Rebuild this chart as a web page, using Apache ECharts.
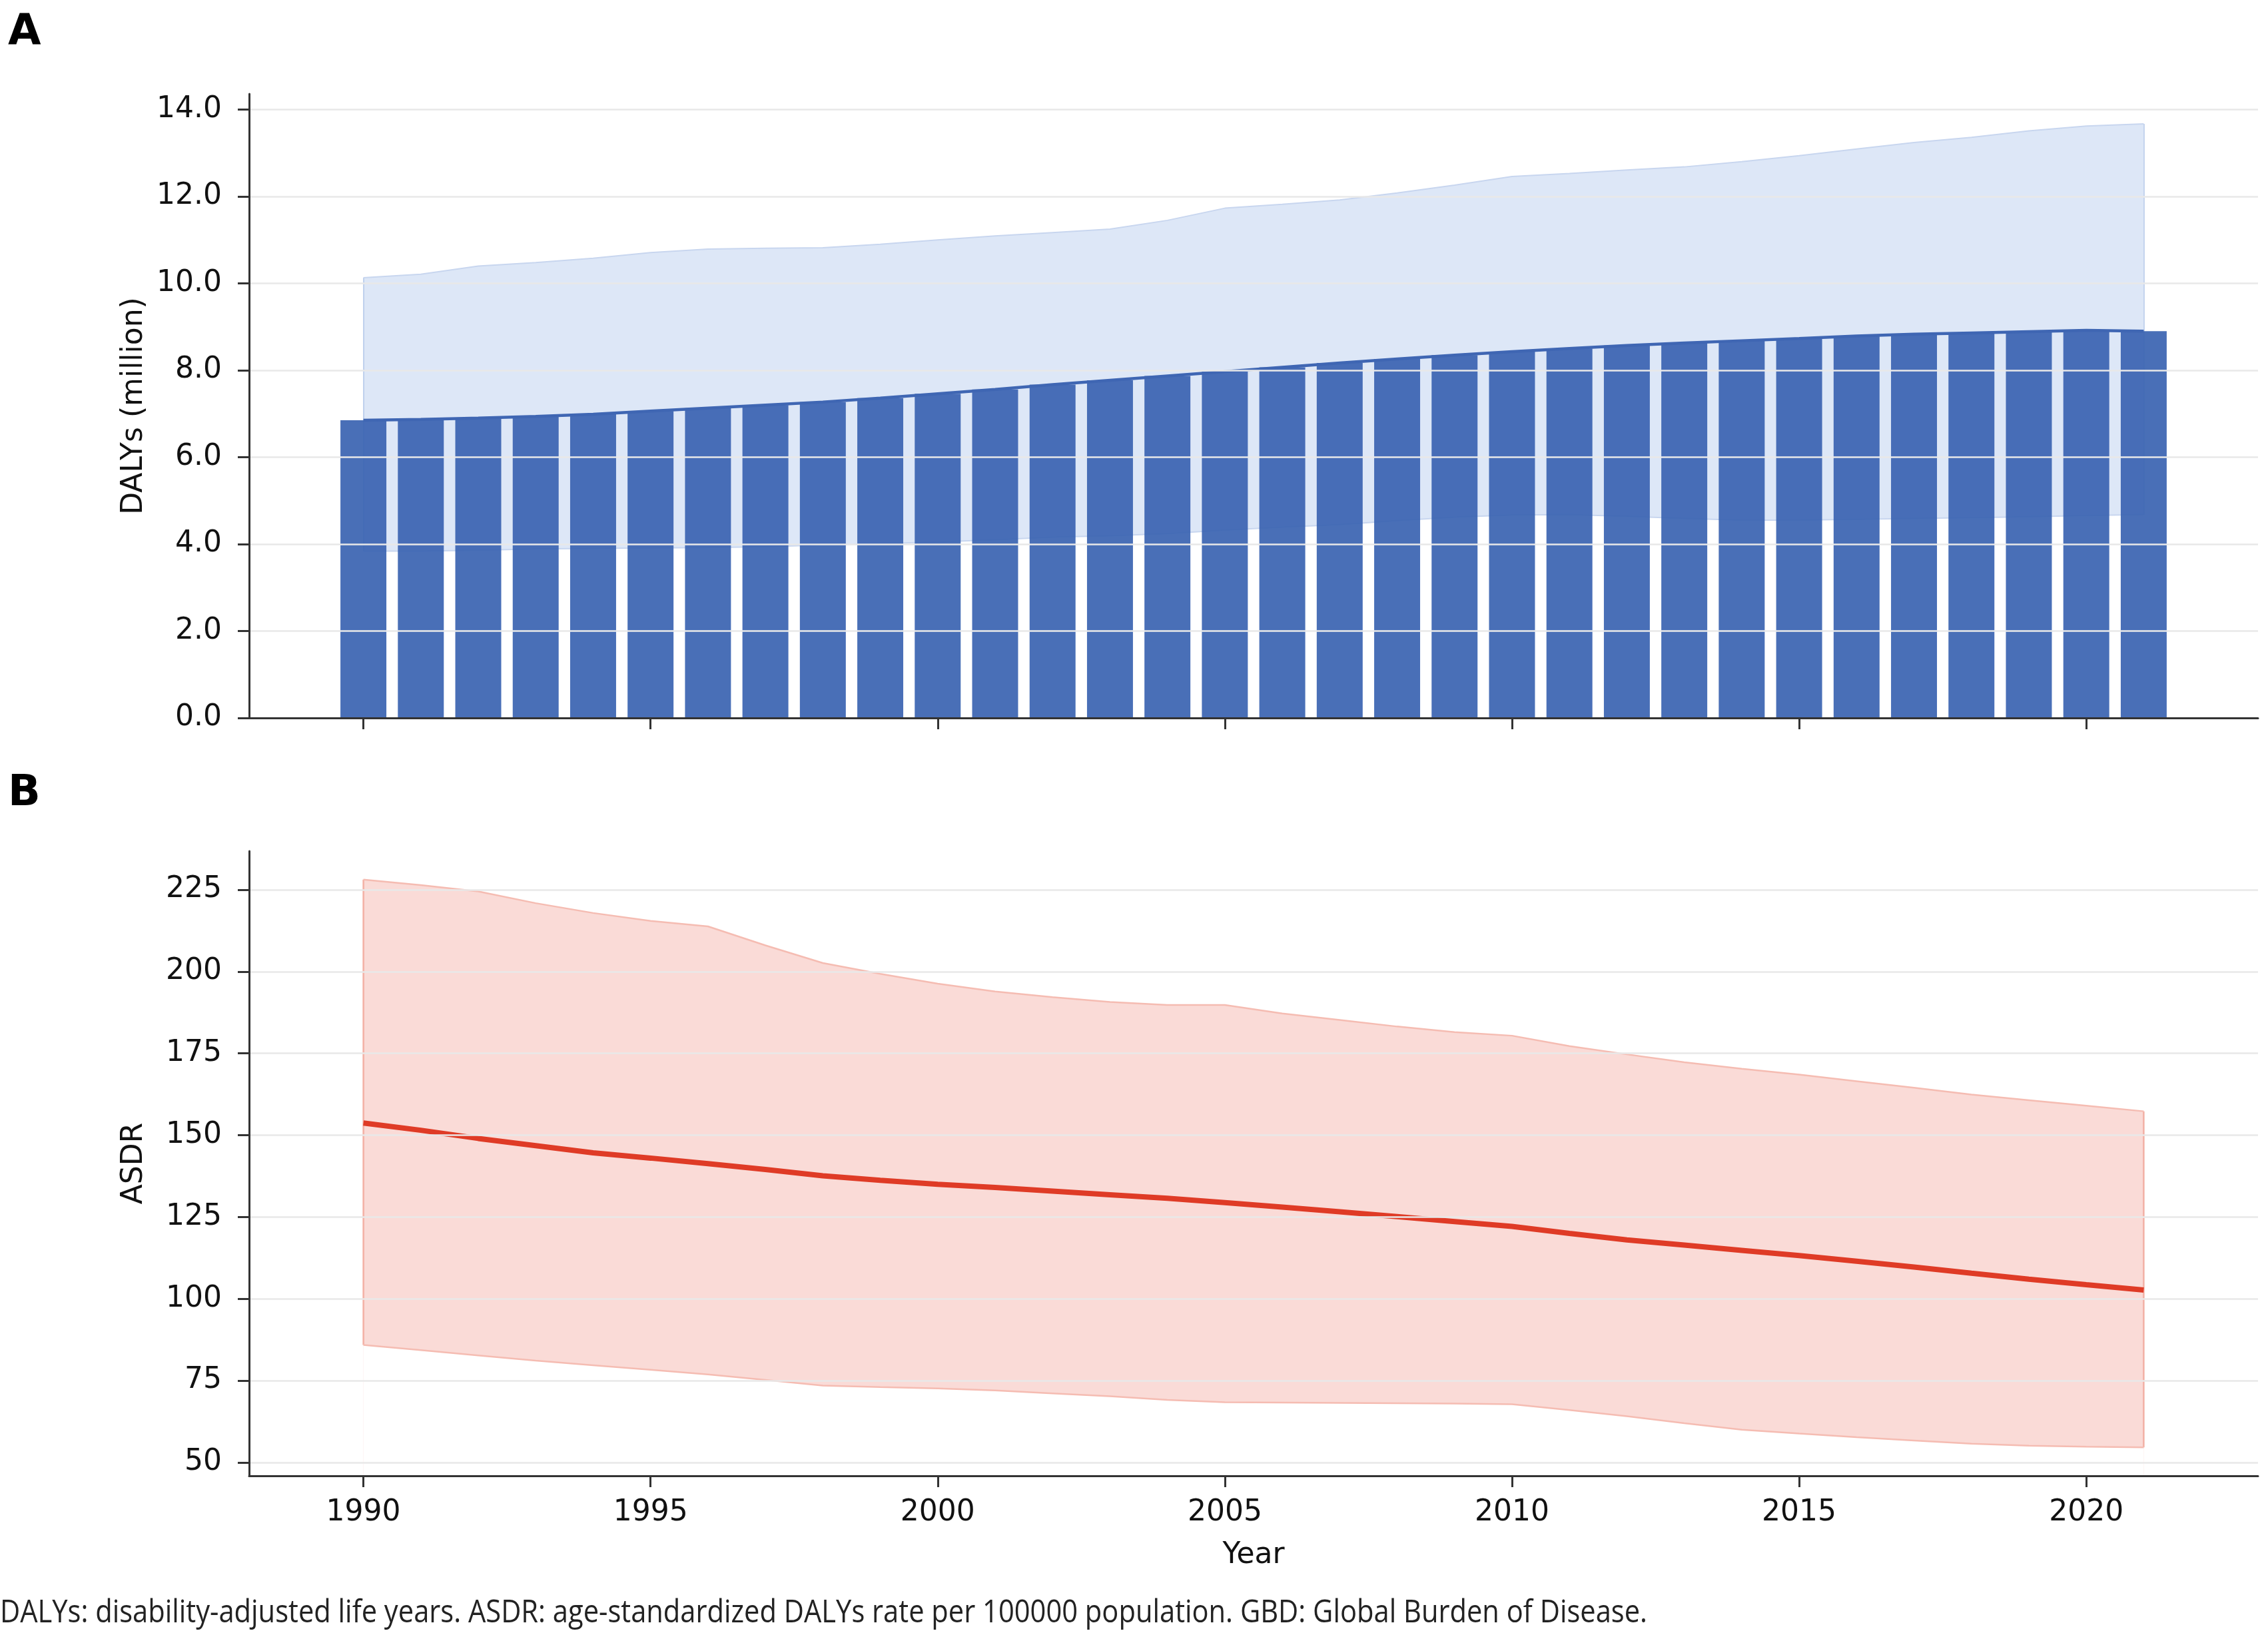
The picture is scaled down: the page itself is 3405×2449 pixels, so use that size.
<!DOCTYPE html>
<html>
<head>
<meta charset="utf-8">
<title>DALYs and ASDR, 1990-2021</title>
<script src="https://cdn.jsdelivr.net/npm/echarts@6.0.0/dist/echarts.min.js"></script>
<style>
	html, body { margin: 0; padding: 0; background: #fff; }
	#chart { width: 3405px; height: 2449px; }
</style>
</head>
<body>
<div id="chart"></div>
<script>
// years on the x axis
var years = [1990, 1991, 1992, 1993, 1994, 1995, 1996, 1997, 1998, 1999,
	2000, 2001, 2002, 2003, 2004, 2005, 2006, 2007, 2008, 2009,
	2010, 2011, 2012, 2013, 2014, 2015, 2016, 2017, 2018, 2019,
	2020, 2021];

// panel A: DALYs (million), bars + uncertainty interval
var dalys = [6.85, 6.87, 6.90, 6.94, 6.99, 7.06, 7.13, 7.20, 7.27, 7.36,
	7.46, 7.56, 7.67, 7.77, 7.87, 7.97, 8.07, 8.17, 8.26, 8.35,
	8.43, 8.50, 8.57, 8.63, 8.68, 8.73, 8.79, 8.83, 8.86, 8.89,
	8.92, 8.90];
var dalysLow = [3.84, 3.84, 3.86, 3.89, 3.90, 3.91, 3.92, 3.94, 3.98, 4.01,
	4.05, 4.10, 4.16, 4.19, 4.24, 4.32, 4.39, 4.45, 4.54, 4.62,
	4.67, 4.68, 4.64, 4.59, 4.55, 4.55, 4.57, 4.59, 4.61, 4.63,
	4.66, 4.68];
var dalysUp = [10.13, 10.21, 10.40, 10.48, 10.58, 10.71, 10.79, 10.81, 10.82, 10.90,
	11.00, 11.09, 11.17, 11.25, 11.45, 11.73, 11.82, 11.92, 12.08, 12.26,
	12.46, 12.53, 12.61, 12.68, 12.80, 12.94, 13.09, 13.24, 13.36, 13.51,
	13.62, 13.67];

// panel B: ASDR per 100000, line + uncertainty interval
var asdr = [153.7, 151.5, 149.0, 146.8, 144.6, 143.0, 141.3, 139.5, 137.6, 136.2,
	135.0, 134.0, 132.9, 131.8, 130.7, 129.4, 128.0, 126.6, 125.1, 123.6,
	122.1, 120.0, 118.0, 116.4, 114.8, 113.2, 111.5, 109.7, 107.8, 106.0,
	104.3, 102.7];
var asdrLow = [85.9, 84.3, 82.7, 81.1, 79.7, 78.3, 76.9, 75.2, 73.5, 73.0,
	72.6, 72.0, 71.1, 70.2, 69.1, 68.4, 68.3, 68.2, 68.1, 68.0,
	67.8, 66.0, 64.1, 62.0, 60.0, 58.8, 57.7, 56.7, 55.7, 55.1,
	54.8, 54.6];
var asdrUp = [228.1, 226.4, 224.5, 220.9, 217.9, 215.5, 213.8, 208.0, 202.6, 199.3,
	196.3, 193.9, 192.2, 190.7, 189.8, 189.8, 187.2, 185.2, 183.2, 181.5,
	180.4, 177.2, 174.7, 172.3, 170.3, 168.5, 166.5, 164.5, 162.4, 160.7,
	159.0, 157.3];

// tick labels
var yearTicks = [1990, 1995, 2000, 2005, 2010, 2015, 2020];
var ticksA = [0, 2, 4, 6, 8, 10, 12, 14];
var ticksB = [50, 75, 100, 125, 150, 175, 200, 225];

var CAPTION = 'DALYs: disability-adjusted life years. ASDR: age-standardized DALYs rate per 100000 population. GBD: Global Burden of Disease.';

var FONT = 'DejaVu Sans';
var W = 3405;
var GRID_LEFT = 374, GRID_RIGHT = 15;
var X_MIN = 1988.01, X_MAX = 2022.99;
// bar width = 0.8 year in pixels
var barPx = 0.8 * (W - GRID_LEFT - GRID_RIGHT) / (X_MAX - X_MIN);

// caption font is a narrow one in the original: squeeze Open Sans to the same width
var capFont = '46px "Open Sans"';
var capCtx = document.createElement('canvas').getContext('2d');
capCtx.font = capFont;
var capScale = 2473 / capCtx.measureText(CAPTION).width;

function pairs(vals) {
	var out = [];
	for(var i = 0; i < years.length; i++) {
		out.push([years[i], vals[i]]);
	}
	return out;
}

function xAxisOf(idx, withLabels) {
	return {
		type: 'value',
		gridIndex: idx,
		min: X_MIN,
		max: X_MAX,
		z: 12,
		name: withLabels ? 'Year' : '',
		nameLocation: 'middle',
		nameGap: 98,
		nameTextStyle: { fontFamily: FONT, fontSize: 44, color: '#111' },
		axisLine: { show: true, onZero: false, lineStyle: { color: '#333', width: 3 } },
		axisTick: { show: true, customValues: yearTicks, length: 17, lineStyle: { color: '#333', width: 3 } },
		axisLabel: {
			show: withLabels,
			customValues: yearTicks,
			margin: 34,
			fontFamily: FONT,
			fontSize: 44,
			color: '#111',
			formatter: function(v) { return String(v); }
		},
		splitLine: { show: false }
	};
}

function yAxisOf(idx, name, min, max, ticks, digits) {
	return {
		type: 'value',
		gridIndex: idx,
		min: min,
		max: max,
		z: 10,
		name: name,
		nameLocation: 'middle',
		nameRotate: 90,
		nameGap: 150,
		nameTextStyle: { fontFamily: FONT, fontSize: 44, color: '#111' },
		axisLine: { show: true, onZero: false, lineStyle: { color: '#333', width: 3 } },
		axisTick: { show: true, customValues: ticks, length: 17, lineStyle: { color: '#333', width: 3 } },
		axisLabel: {
			customValues: ticks,
			margin: 41,
			fontFamily: FONT,
			fontSize: 44,
			color: '#111',
			formatter: function(v) { return v.toFixed(digits); }
		},
		splitLine: { show: true, lineStyle: { color: '#e8e8e8', width: 2.5 } }
	};
}

// band = upper edge filled down to the axis, lower edge filled white on top of it
// z 1 keeps both under the bars and the mean lines
function bandSeries(axis, low, up, fill, edge, edgeWidth) {
	var last = years.length - 1;
	return [{
		type: 'line', xAxisIndex: axis, yAxisIndex: axis, z: 1,
		data: pairs(up), showSymbol: false, silent: true,
		lineStyle: { color: edge, width: edgeWidth },
		areaStyle: { color: fill, opacity: 1, origin: 'start' },
		// closing edges of the band at the first and last year
		markLine: {
			silent: true, symbol: 'none', z: 1, label: { show: false },
			lineStyle: { color: edge, width: edgeWidth, type: 'solid' },
			data: [
				[{ coord: [years[0], low[0]] }, { coord: [years[0], up[0]] }],
				[{ coord: [years[last], low[last]] }, { coord: [years[last], up[last]] }]
			]
		}
	}, {
		type: 'line', xAxisIndex: axis, yAxisIndex: axis, z: 1,
		data: pairs(low), showSymbol: false, silent: true,
		lineStyle: { color: edge, width: edgeWidth },
		areaStyle: { color: '#ffffff', opacity: 1, origin: 'start' }
	}];
}

var myChart = echarts.init(document.getElementById('chart'), null, { renderer: 'canvas' });

var series = [];
series = series.concat(bandSeries(0, dalysLow, dalysUp, 'rgba(170,195,235,0.4)', '#c8d6ef', 2));
series.push({
	type: 'bar', xAxisIndex: 0, yAxisIndex: 0, z: 2,
	data: pairs(dalys), barWidth: barPx,
	itemStyle: { color: 'rgba(58,99,177,0.92)' }
});
series.push({
	type: 'line', xAxisIndex: 0, yAxisIndex: 0, z: 3,
	data: pairs(dalys), showSymbol: false,
	lineStyle: { color: '#3f66b3', width: 4.5 }
});
series = series.concat(bandSeries(1, asdrLow, asdrUp, 'rgba(230,75,53,0.2)', '#f5bcb2', 2.5));
series.push({
	type: 'line', xAxisIndex: 1, yAxisIndex: 1, z: 3,
	data: pairs(asdr), showSymbol: false,
	lineStyle: { color: '#df3b26', width: 8 }
});

var option = {
	backgroundColor: '#fff',
	animation: false,
	grid: [
		{ left: GRID_LEFT, right: GRID_RIGHT, top: 141, height: 937 },
		{ left: GRID_LEFT, right: GRID_RIGHT, top: 1278, height: 938 }
	],
	xAxis: [xAxisOf(0, false), xAxisOf(1, true)],
	yAxis: [
		yAxisOf(0, 'DALYs (million)', 0, 14.36, ticksA, 1),
		yAxisOf(1, 'ASDR', 45.9, 236.8, ticksB, 0)
	],
	graphic: [
		{ type: 'text', left: 12, top: 18, style: { text: 'A', font: 'bold 64px "DejaVu Sans"', fill: '#000' } },
		{ type: 'text', left: 12, top: 1160, style: { text: 'B', font: 'bold 64px "DejaVu Sans"', fill: '#000' } },
		{
			type: 'text', x: 0, y: 2398, scaleX: capScale, scaleY: 1.05,
			style: { text: CAPTION, font: capFont, fill: '#222' }
		}
	],
	series: series
};

myChart.setOption(option);
</script>
</body>
</html>
